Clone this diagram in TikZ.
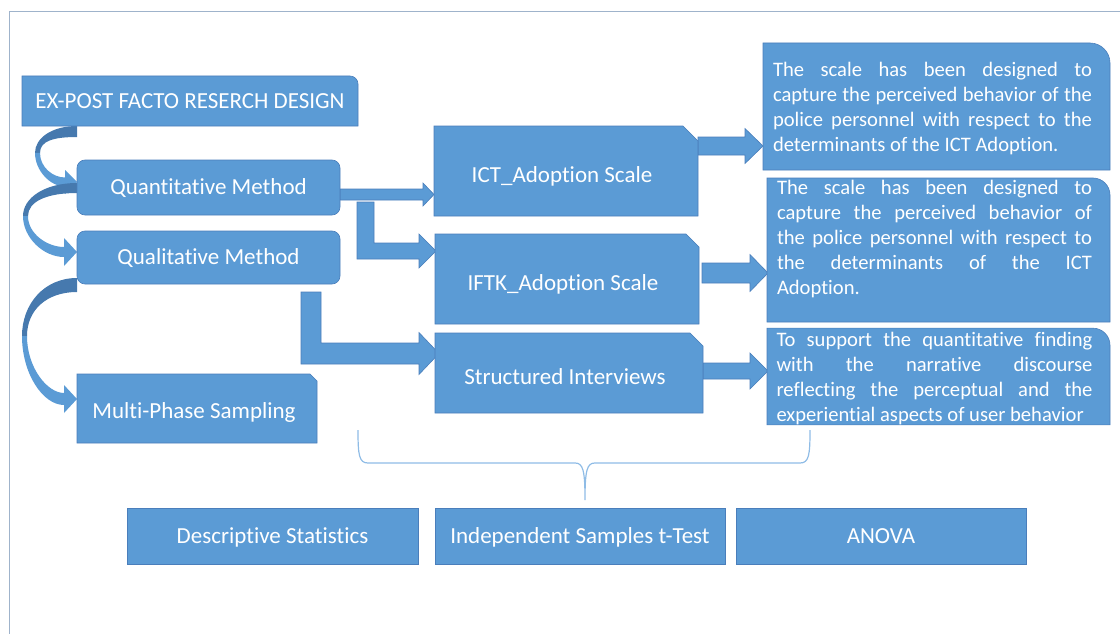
\documentclass[tikz,border=0pt]{standalone}
\usepackage{fontspec}
\setmainfont{Carlito}[Ligatures=NoCommon]
\usetikzlibrary{calc}
\pgfdeclarelayer{background}
\pgfsetlayers{background,main}

\definecolor{boxc}{HTML}{5B9BD5}
\definecolor{edgec}{HTML}{4A7EBB}
\definecolor{backc}{HTML}{4679AE}
\definecolor{bracec}{HTML}{8FBCE6}
\definecolor{framec}{HTML}{9FB3CB}

% justified and ragged lines of the note boxes
\newcommand\jline[2]{\hbox to #1{#2}}
\newcommand\lline[2]{\hbox to #1{#2\hfil}}
% label placement inside the snipped boxes
\newcommand\sniptext[1]{\raisebox{-4pt}{\hspace*{-8pt}#1}}

% box with one rounded corner (north east)
\newcommand\roundne[2]{\path[shapefill] (#1.south west) -- (#1.north west) -- ($(#1.north east)+(-#2,0)$) .. controls ($(#1.north east)+({-0.45*#2},0)$) and ($(#1.north east)+(0,{0.45*#2})$) .. ($(#1.north east)+(0,#2)$) -- (#1.south east) -- cycle;}
% box with a snipped corner (north east)
\newcommand\snipne[2]{\path[shapefill] (#1.south west) -- (#1.north west) -- ($(#1.north east)+(-#2,0)$) -- ($(#1.north east)+(0,#2)$) -- (#1.south east) -- cycle;}
% straight block arrow: start, tip, half band, half head, head length
\newcommand\blockarrow[5]{\path[blockarrow] ($(#1)+(0,-#3)$) -- ($(#2)+(-#5,-#3)$) -- ($(#2)+(-#5,-#4)$) -- (#2) -- ($(#2)+(-#5,#4)$) -- ($(#2)+(-#5,#3)$) -- ($(#1)+(0,#3)$) -- cycle;}
% bent block arrow: stem top-left, tip, stem width, half band, half head, head length
\newcommand\elbowarrow[6]{\path[blockarrow] let \p1=(#1), \p2=(#2) in
  (\x1,\y1) -- ({\x1+#3pt},\y1) -- ({\x1+#3pt},{\y2+#4pt}) -- ({\x2-#6pt},{\y2+#4pt}) -- ({\x2-#6pt},{\y2+#5pt}) -- (\x2,\y2) -- ({\x2-#6pt},{\y2-#5pt}) -- ({\x2-#6pt},{\y2-#4pt}) -- (\x1,{\y2-#4pt}) -- cycle;}
% curved block arrow on the left: start, drop to tip, reach, start width, head-end width, half head, head length
\newcommand\bentband[7]{%
\begin{scope}[shift={(#1)}]
 \pgfmathsetmacro\cym{0.48*#2}
 \fill[backc] (0,0) .. controls ({-0.6*#3},0) and ({-#3},{0.45*\cym}) .. ({-#3},\cym) -- ({-#3+5},\cym) .. controls ({-#3+5},{0.55*\cym}) and ({-0.55*#3},#4) .. (0,#4) -- cycle;
 \fill[boxc] ({-#3},\cym) .. controls ({-#3},{\cym+0.6*(#2-\cym)}) and ({-#7-0.5*(#3-#7)},{#2+#5/2}) .. ({-#7},{#2+#5/2}) -- ({-#7},{#2+#6}) -- (0,#2) -- ({-#7},{#2-#6}) -- ({-#7},{#2-#5/2}) .. controls ({-#7-0.4*(#3-#7)},{#2-#5/2}) and ({-#3+5},{\cym+0.5*(#2-\cym)}) .. ({-#3+5},\cym) -- cycle;
\end{scope}}

\tikzset{
 lbl/.style={text=white, font=\fontsize{23}{27}\selectfont, text height=14.8pt, text depth=0pt, inner sep=0pt, outer sep=0pt},
 rbox/.style={lbl, rounded corners=8pt, fill=boxc, draw=edgec, line width=0.6pt},
 pbox/.style={lbl, fill=boxc, draw=edgec, line width=0.6pt},
 bare/.style={lbl},
 note/.style={text=white, font=\fontsize{20.6}{25}\selectfont, inner sep=0pt, outer sep=0pt},
 shapefill/.style={fill=boxc, draw=edgec, line width=0.6pt},
 blockarrow/.style={fill=boxc, draw=edgec, line width=0.6pt, line join=miter},
 brace/.style={draw=bracec, line width=1.2pt},
 frame/.style={draw=framec, line width=1pt},
}

\begin{document}
\begin{tikzpicture}[x=1pt,y=-1pt]
\useasboundingbox (0,0) rectangle (1120,634);

% frame
\draw[frame] (1120,12) -- (9,12) -- (9,634);

% left column
\node[bare, minimum width=336pt, minimum height=50pt] (ex) at (190,101) {EX-POST FACTO RESERCH DESIGN};
\node[rbox, minimum width=263pt, minimum height=55pt] (qm) at (208.5,187.5) {Quantitative Method};
\node[rbox, minimum width=263pt, minimum height=53pt] (ql) at (208.5,257.5) {Qualitative Method};
\node[bare, minimum width=240pt, minimum height=69pt] (mp) at (197,408.5) {\raisebox{-3pt}{\hspace*{-6pt}Multi-Phase Sampling}};

% instruments
\node[bare, minimum width=264pt, minimum height=90pt] (ict) at (566,171) {\sniptext{ICT\_Adoption Scale}};
\node[bare, minimum width=264pt, minimum height=90pt] (iftk) at (567,279) {\sniptext{IFTK\_Adoption Scale}};
\node[bare, minimum width=268pt, minimum height=80pt] (si) at (569,373) {\sniptext{Structured Interviews}};

% notes
\node[note, minimum width=347pt, minimum height=127pt] (n1) at (936.5,106.5) {\hspace*{-8pt}\parbox{327pt}{%
\vspace*{4pt}
\jline{319pt}{The scale has been designed to}
\jline{319pt}{capture the perceived behavior of the}
\jline{319pt}{police personnel with respect to the}
\lline{319pt}{determinants of the ICT Adoption.}}};
\node[note, minimum width=343pt, minimum height=144pt] (n2) at (938.5,250) {\hspace*{-8pt}\parbox[c][144pt][t]{323pt}{%
\vspace*{2.5pt}
\jline{315pt}{The scale has been designed to}
\jline{315pt}{capture the perceived behavior of}
\jline{315pt}{the police personnel with respect to}
\jline{315pt}{the determinants of the ICT}
\lline{315pt}{Adoption.}}};
\node[note, minimum width=343pt, minimum height=93pt] (n3) at (938.5,376.5) {\hspace*{-8pt}\parbox{323pt}{%
\vspace*{4pt}
\jline{316pt}{To support the quantitative finding}
\jline{316pt}{with the narrative discourse}
\jline{316pt}{reflecting the perceptual and the}
\lline{316pt}{experiential aspects of user behavior}}};

% analyses
\node[pbox, minimum width=291pt, minimum height=56pt] (ds) at (272.5,536) {Descriptive Statistics};
\node[pbox, minimum width=290pt, minimum height=56pt] (it) at (580,536) {Independent Samples t-Test};
\node[pbox, minimum width=290pt, minimum height=56pt] (an) at (881,536) {ANOVA};

% anchor points of the arrows
\coordinate (aAs) at ($(qm.east)+(0,7)$);
\coordinate (aAt) at (ict.west |- aAs);
\coordinate (bS) at ($(qm.east)+(17,14.5)$);
\coordinate (bT) at ($(iftk.west)+(1,-28)$);
\coordinate (cS) at ($(ql.south east)+(-39,8)$);
\coordinate (cT) at ($(si.west)+(4,-19.5)$);
\coordinate (dS) at ($(ict.east)+(0,-25)$);
\coordinate (dT) at (n1.west |- dS);
\coordinate (eS) at ($(iftk.east)+(3,-6)$);
\coordinate (eT) at ($(n2.west |- eS)+(1,0)$);
\coordinate (fS) at ($(si.east)+(0,-2)$);
\coordinate (fT) at ($(n3.west |- fS)+(1,0)$);

% brace over the instruments
\coordinate (brL) at (358,430);
\coordinate (brR) at (810,430);
\coordinate (brT) at (585,500);

\begin{pgfonlayer}{background}
 \bentband{ex.south -| qm.west}{56}{42}{11}{9}{12}{12}
 \bentband{$(qm.west)+(0,-4.5)$}{69}{54}{10}{10}{14}{13}
 \bentband{$(ql.west)+(0,20.5)$}{121}{55}{14}{12}{14}{13}

 \blockarrow{aAs}{aAt}{5.5}{11.5}{11}
 \elbowarrow{bS}{bT}{17}{8}{17}{17}
 \elbowarrow{cS}{cT}{20}{10.5}{21}{20}
 \blockarrow{dS}{dT}{9}{17.5}{18}
 \blockarrow{eS}{eT}{10}{18.5}{18}
 \blockarrow{fS}{fT}{8}{18}{18}

 \roundne{ex}{8}
 \snipne{mp}{7}
 \snipne{ict}{15}
 \snipne{iftk}{13}
 \snipne{si}{13}
 \roundne{n1}{20}
 \roundne{n2}{17}
 \roundne{n3}{17}
\end{pgfonlayer}

\draw[brace] (brL) .. controls (358,455) and (359,463) .. (368,463) -- (575,463) .. controls (583,463) and (585,470) .. (brT)
  .. controls (585,470) and (587,463) .. (595,463) -- (800,463) .. controls (809,463) and (810,455) .. (brR);
\end{tikzpicture}
\end{document}
